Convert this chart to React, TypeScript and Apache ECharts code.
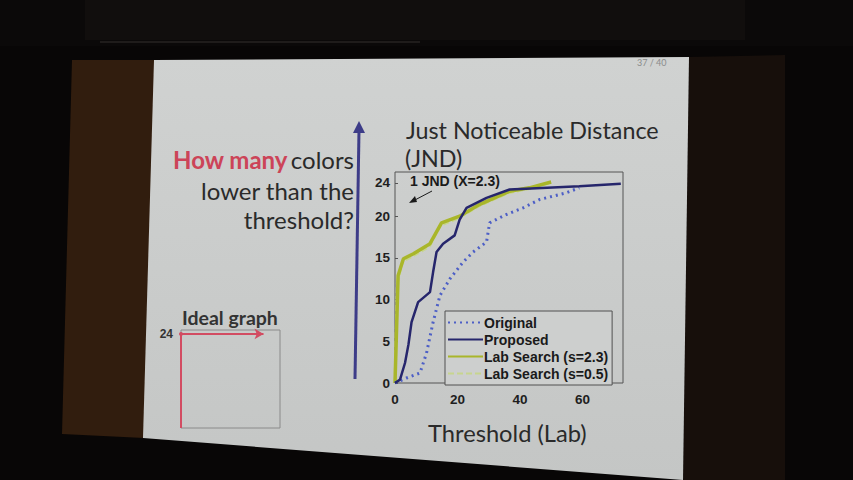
import React, { useEffect, useRef } from "react";
import * as echarts from "echarts";

// ---- data ----
const originalData: [number, number][] = [
  [0, 0], [3.7, 0.6], [8, 1.2], [10.1, 3.6], [12.2, 7.3], [14.4, 10.5], [17.6, 12.5],
  [21.8, 14.5], [25, 15.7], [29.3, 16.9], [30.3, 19.2], [35.6, 20.2], [41, 21],
  [46.3, 22], [54.8, 22.8], [59, 23.4],
];
const proposedData: [number, number][] = [
  [0, 0], [1.6, 0.4], [3.2, 2.4], [4.3, 4.6], [5.3, 7.3], [7.4, 9.7], [11.2, 10.9],
  [12.2, 13.3], [13.3, 15.7], [15.4, 16.7], [19.1, 17.7], [20.7, 19.6], [22.9, 21],
  [29.3, 22.2], [36.7, 23.2], [59, 23.6], [72.3, 23.9],
];
const labS23Data: [number, number][] = [
  [0, 0], [1, 12.9], [2.7, 14.9], [5.9, 15.5], [11.2, 16.7], [14.9, 19.2], [20.7, 20],
  [27, 21.4], [36.7, 23], [43, 23.4], [50, 24.1],
];
const labS05Data: [number, number][] = [
  [0, 0], [0.8, 12.2], [2.4, 14.6], [5.5, 15.2], [11, 16.4], [14.5, 18.9], [20.4, 19.8],
  [26.6, 21.2], [36.2, 22.8], [42.6, 23.3], [49.5, 24],
];
const idealData: [number, number][] = [[0, 0], [0, 24], [60, 24]];

const seriesNames = ["Original", "Proposed", "Lab Search (s=2.3)", "Lab Search (s=0.5)"];
const yTicks = [0, 5, 10, 15, 20, 24];
const xTicks = [0, 20, 40, 60];
const idealTicks = [24];

const tickFont = { fontFamily: "Liberation Sans", fontWeight: "bold" as const, fontSize: 13.5, color: "#1e1e1e" };

export default function App() {
  const ref = useRef<HTMLDivElement>(null);
  useEffect(() => {
    document.body.style.margin = "0";
    const chart = echarts.init(ref.current!, null, { renderer: "svg" });
    const option: any = {
      animation: false,
      backgroundColor: "#080606",
      graphic: [
        { type: "rect", shape: { x: 0, y: 0, width: 853, height: 46 }, style: { fill: "#0b0909" }, z: -10 },
        { type: "rect", shape: { x: 85, y: 0, width: 660, height: 40 }, style: { fill: "#110e0d" }, z: -10 },
        { type: "rect", shape: { x: 100, y: 41, width: 320, height: 2 }, style: { fill: "#1f1c1b" }, z: -10 },
        { type: "polygon", shape: { points: [[72, 60], [155, 60], [144, 438], [62, 434]] }, style: { fill: "#311d0e" }, z: -10 },
        { type: "polygon", shape: { points: [[689, 57], [785, 55], [785, 480], [683, 480]] }, style: { fill: "#170f0b" }, z: -10 },
        {
          type: "polygon",
          shape: { points: [[154, 60], [689, 57], [683, 480], [143, 438]] },
          style: {
            fill: new echarts.graphic.LinearGradient(0, 0, 0, 1, [
              { offset: 0, color: "#d0d2d1" },
              { offset: 1, color: "#c4c6c5" },
            ]),
          },
          z: -9,
        },
        { type: "text", style: { text: "37 / 40", x: 637, y: 62, font: "9px Lato", fill: "#8a8c8c", textVerticalAlign: "middle" }, z: 5 },
        {
          type: "text",
          style: {
            text: "{r|How many} {n|colors}",
            x: 354, y: 159, textAlign: "right", textVerticalAlign: "middle",
            rich: {
              r: { font: "bold 24px Lato", fill: "#cc4458" },
              n: { font: "24px Lato", fill: "#2a2a2a" },
            },
          },
          z: 5,
        },
        { type: "text", style: { text: "lower than the", x: 354, y: 190, textAlign: "right", textVerticalAlign: "middle", font: "24px Lato", fill: "#2a2a2a" }, z: 5 },
        { type: "text", style: { text: "threshold?", x: 354, y: 219, textAlign: "right", textVerticalAlign: "middle", font: "24px Lato", fill: "#2a2a2a" }, z: 5 },
        { type: "line", shape: { x1: 355, y1: 379, x2: 359, y2: 130 }, style: { stroke: "#3d3c88", lineWidth: 3 }, z: 5 },
        { type: "polygon", shape: { points: [[353, 133], [359, 121], [365, 133]] }, style: { fill: "#3d3c88" }, z: 5 },
        { type: "text", style: { text: "Just Noticeable Distance", x: 406, y: 130, textVerticalAlign: "middle", font: "23.3px Lato", fill: "#2a2a2a" }, z: 5 },
        { type: "text", style: { text: "(JND)", x: 405, y: 158, textVerticalAlign: "middle", font: "23.3px Lato", fill: "#2a2a2a" }, z: 5 },
        { type: "text", style: { text: "1 JND (X=2.3)", x: 410, y: 181, textVerticalAlign: "middle", font: "bold 14px 'Liberation Sans'", fill: "#1a1a1a" }, z: 5 },
        { type: "line", shape: { x1: 432, y1: 191, x2: 413, y2: 201 }, style: { stroke: "#1a1a1a", lineWidth: 1 }, z: 5 },
        { type: "polygon", shape: { points: [[409, 203], [415, 196], [417, 202]] }, style: { fill: "#1a1a1a" }, z: 5 },
        { type: "text", style: { text: "Threshold (Lab)", x: 428, y: 433, textVerticalAlign: "middle", font: "23.7px Lato", fill: "#2a2a2a" }, z: 5 },
        { type: "text", style: { text: "Ideal graph", x: 182, y: 317, textVerticalAlign: "middle", font: "bold 19.5px Lato", fill: "#333" }, z: 5 },
      ],
      legend: {
        data: seriesNames,
        orient: "vertical",
        left: 445,
        top: 311,
        itemWidth: 35,
        itemHeight: 12,
        itemGap: 2,
        padding: [4, 4, 4, 2],
        borderColor: "#505050",
        borderWidth: 1,
        backgroundColor: "#cdcfce",
        itemStyle: { opacity: 0 },
        textStyle: { fontFamily: "Liberation Sans", fontWeight: "bold", fontSize: 14, lineHeight: 15, color: "#1a1a1a", padding: [0, 0, 0, -4] },
      },
      grid: [
        { left: 395, top: 172, width: 228, height: 211, show: true, borderColor: "#555", borderWidth: 1, backgroundColor: "transparent" },
        { left: 181, top: 330, width: 99, height: 98, show: true, borderColor: "#8a8a8a", borderWidth: 1, backgroundColor: "transparent" },
      ],
      xAxis: [
        {
          type: "value", gridIndex: 0, min: 0, max: 73,
          axisLine: { show: false },
          splitLine: { show: false },
          axisTick: { inside: true, customValues: xTicks, lineStyle: { color: "#555" }, length: 3 },
          axisLabel: { customValues: xTicks, margin: 9, ...tickFont },
        },
        {
          type: "value", gridIndex: 1, min: 0, max: 72,
          axisLine: { show: false }, splitLine: { show: false }, axisTick: { show: false }, axisLabel: { show: false },
        },
      ],
      yAxis: [
        {
          type: "value", gridIndex: 0, min: 0, max: 25.3,
          axisLine: { show: false },
          splitLine: { show: false },
          axisTick: { inside: true, customValues: yTicks, lineStyle: { color: "#555" }, length: 3 },
          axisLabel: { customValues: yTicks, margin: 5, ...tickFont },
        },
        {
          type: "value", gridIndex: 1, min: 0, max: 25,
          axisLine: { show: false }, splitLine: { show: false }, axisTick: { show: false },
          axisLabel: { customValues: idealTicks, margin: 8, fontFamily: "Liberation Sans", fontWeight: "bold", fontSize: 12, color: "#333" },
        },
      ],
      series: [
        {
          name: "Lab Search (s=0.5)", type: "line", data: labS05Data, symbol: "none", z: 2,
          lineStyle: { color: "#c7d58e", width: 3, type: [6, 3] }, itemStyle: { color: "#c7d58e" },
        },
        {
          name: "Lab Search (s=2.3)", type: "line", data: labS23Data, symbol: "none", z: 3,
          lineStyle: { color: "#a9b62a", width: 3.5 }, itemStyle: { color: "#a9b62a" },
        },
        {
          name: "Original", type: "line", data: originalData, symbol: "none", z: 3,
          lineStyle: { color: "#4d5fc6", width: 3, type: [2, 4] }, itemStyle: { color: "#4d5fc6" },
        },
        {
          name: "Proposed", type: "line", data: proposedData, symbol: "none", z: 4,
          lineStyle: { color: "#26266c", width: 2.5 }, itemStyle: { color: "#26266c" },
        },
        {
          name: "ideal", type: "line", xAxisIndex: 1, yAxisIndex: 1, z: 3,
          data: idealData.map((p, i) =>
            i === idealData.length - 1
              ? { value: p, symbol: "arrow", symbolRotate: -90, symbolSize: [8, 9] }
              : { value: p, symbol: i === 1 ? "circle" : "none", symbolSize: 4 }
          ),
          showSymbol: true,
          lineStyle: { color: "#d24c62", width: 2 }, itemStyle: { color: "#d24c62" },
        },
      ],
    };
    chart.setOption(option);
    return () => chart.dispose();
  }, []);
  return <div ref={ref} style={{ position: "fixed", left: 0, top: 0, width: 853, height: 480 }} />;
}
